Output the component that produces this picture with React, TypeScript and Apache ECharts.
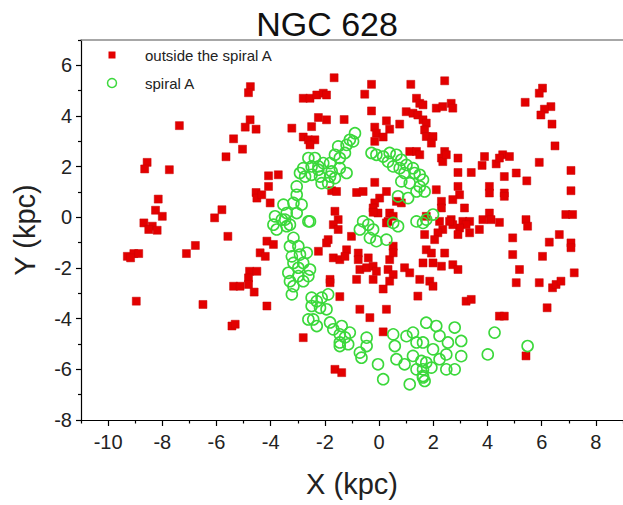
import React, { useEffect, useRef } from "react";
import * as echarts from "echarts";

// X / Y in kpc
const xMajorTicks = [-10, -8, -6, -4, -2, 0, 2, 4, 6, 8];
const xMinorTicks = [-11, -9, -7, -5, -3, -1, 1, 3, 5, 7, 9];
const yMajorTicks = [-8, -6, -4, -2, 0, 2, 4, 6];
const yMinorTicks = [-7, -5, -3, -1, 1, 3, 5, 7];

const outsideSpiralA: [number, number][] = [
  [-7.37, 3.62], [-4.75, 5.16], [-4.82, 4.92], [-4.76, 3.85], [-4.94, 3.56], [-4.54, 3.48],
  [-5.37, 3.1], [-5.04, 2.69], [-5.65, 2.39], [-8.56, 2.17], [-8.65, 1.91], [-7.74, 1.88],
  [-4.54, 0.98], [-4.51, 0.76], [-8.15, 0.72], [-8.25, 0.28], [-8.0, 0.04], [-5.8, 0.3],
  [-6.07, -0.02], [-8.68, -0.22], [-8.37, -0.35], [-8.5, -0.48], [-8.19, -0.51], [-5.58, -0.75],
  [-7.11, -1.43], [-6.78, -1.11], [-9.29, -1.54], [-9.05, -1.43], [-8.87, -1.43], [-9.17, -1.6],
  [-8.96, -3.31], [-6.5, -3.44], [-5.43, -4.29], [-5.31, -4.22], [-4.78, -2.13], [-4.82, -2.39],
  [-4.82, -2.65], [-4.51, -2.13], [-4.39, -1.4], [-5.37, -2.72], [-5.13, -2.72], [-4.61, -2.95],
];

const outsideSpiralB: [number, number][] = [
  [-1.66, 5.51], [-0.28, 5.25], [1.17, 5.25], [-0.53, 4.86], [-2.8, 4.7], [-2.55, 4.7],
  [-2.3, 4.83], [-2.06, 4.9], [-1.94, 4.83], [1.38, 4.7], [1.5, 4.5], [1.62, 4.44],
  [1.0, 4.17], [1.25, 4.11], [1.43, 4.04], [1.62, 3.85], [1.74, 3.72], [1.68, 3.45],
  [1.74, 3.19], [-0.28, 4.2], [0.27, 3.81], [0.76, 3.68], [0.39, 3.48], [-0.16, 3.56],
  [-0.1, 3.32], [0.15, 3.17], [-0.16, 3.0], [-2.24, 3.94], [-1.94, 3.85], [-2.49, 3.58],
  [-1.29, 3.86], [-3.22, 3.52], [-2.8, 3.17], [-2.61, 3.06], [-2.37, 3.06], [-2.55, 2.86],
  [1.13, 2.6], [1.38, 2.6], [1.5, 2.47], [-4.08, 1.64], [-3.72, 1.68], [-4.33, 0.89],
  [-4.08, 1.22], [-4.02, 0.57], [-1.75, 1.05], [-1.57, 1.02], [-0.83, 0.98], [-0.59, 1.02],
  [-0.16, 1.38], [0.27, 1.02], [0.02, 0.76], [-0.16, 0.57], [-0.22, 0.37], [-0.04, 0.17],
  [0.64, 0.63], [0.82, 0.57], [0.39, 0.17], [0.52, 0.04], [0.33, -0.16], [-1.63, 0.24],
  [-1.51, -0.09], [-1.69, -0.29],
];

const outsideSpiralC: [number, number][] = [
  [2.42, 5.39], [6.03, 5.1], [5.91, 4.9], [5.39, 4.54], [6.34, 4.37], [6.1, 4.27],
  [5.97, 4.04], [6.38, 3.68], [6.49, 2.82], [1.99, 3.19], [1.93, 2.93], [2.11, 4.31],
  [2.35, 4.37], [2.66, 4.5], [2.72, 4.31], [2.42, 2.6], [2.3, 2.34], [2.35, 2.2],
  [2.48, 2.47], [2.91, 2.34], [2.91, 1.77], [3.4, 1.77], [2.91, 1.22], [2.97, 0.89],
  [4.07, 1.22], [4.07, 0.96], [4.62, 1.61], [4.62, 0.96], [4.62, 0.83], [3.89, 2.4],
  [3.8, 2.05], [4.32, 2.11], [4.56, 2.47], [4.81, 2.4], [4.44, 2.34], [5.06, 1.75],
  [5.45, 1.44], [5.91, 2.17], [7.08, 1.85], [7.08, 1.05], [6.89, 0.11], [7.14, 0.11],
  [2.11, 1.09], [2.3, 0.63], [2.3, 0.37], [2.72, 0.7], [3.15, 0.37], [2.66, -0.09],
  [3.09, -0.16], [3.34, -0.16], [3.83, -0.09], [4.07, 0.17], [4.13, -0.09], [4.44, -0.2],
  [5.42, -0.09], [2.23, -0.16],
];

const outsideSpiralD: [number, number][] = [
  [-4.14, -0.94], [-3.9, -1.07], [-4.2, -1.54], [-4.14, -3.5], [-2.8, -4.75], [-1.63, -6.0],
  [-1.38, -6.13], [-1.88, -0.88], [-1.94, -1.01], [-1.51, -0.48], [-2.24, -1.34], [-1.69, -1.6],
  [-1.45, -1.67], [-1.81, -2.45], [-1.81, -2.58], [-1.45, -3.13], [-1.02, -0.75], [-1.2, -1.28],
  [-1.26, -1.54], [-0.77, -1.41], [-0.77, -1.67], [-0.71, -2.06], [-0.46, -1.99], [-0.22, -1.93],
  [-0.1, -2.13], [-0.83, -2.45], [-0.22, -2.45], [-0.4, -1.6], [-0.71, -3.63], [-0.34, -3.96],
  [0.15, -2.83], [0.27, -3.63], [0.15, -4.52], [-0.22, 0.2], [0.27, -0.22], [0.52, -1.14],
  [0.39, -1.67], [0.52, -1.4], [0.33, -2.06], [0.52, -2.26], [0.39, -2.52], [0.94, -1.99],
  [1.13, -2.19], [1.5, -2.45], [1.43, -3.11], [1.62, -1.8], [1.74, -1.28], [1.68, -0.68],
  [1.74, 0.04],
];

const outsideSpiralE: [number, number][] = [
  [5.48, -0.35], [4.93, -0.81], [4.93, -1.47], [5.18, -2.06], [5.06, -2.58], [5.91, -2.58],
  [6.03, -1.54], [6.28, -0.98], [6.65, -0.68], [7.08, -1.01], [7.08, -1.2], [7.2, -2.19],
  [6.4, -2.78], [6.53, -2.65], [6.71, -2.52], [6.2, -3.57], [3.7, -0.48], [3.21, -0.29],
  [2.97, -0.42], [2.91, -0.68], [3.34, -0.61], [2.72, -0.29], [2.6, -0.16], [2.35, -0.48],
  [2.17, -0.61], [2.05, -0.88], [1.93, -1.41], [2.42, -1.41], [2.72, -1.87], [2.91, -2.06],
  [2.3, -1.93], [1.99, -1.8], [1.87, -2.52], [1.99, -2.72], [3.21, -3.31], [3.4, -3.24],
  [4.44, -3.9], [4.62, -3.9], [5.42, -5.47],
];

const spiralNorth: [number, number][] = [
  [-0.89, 3.32], [-1.08, 3.06], [-0.96, 3.0], [-1.51, 2.8], [-1.2, 2.86], [-1.26, 2.54],
  [-1.63, 2.47], [-1.45, 2.34], [-1.81, 2.14], [-2.06, 2.14], [-2.37, 2.34], [-2.61, 2.34],
  [-2.49, 2.01], [-2.24, 2.01], [-2.8, 1.94], [-2.92, 1.75], [-2.73, 1.61], [-2.49, 1.68],
  [-2.18, 1.61], [-1.81, 1.61], [-2.12, 1.35], [-2.24, 1.88], [-1.75, 1.81], [-1.45, 1.94],
  [-1.2, 1.75], [-1.63, 1.55], [-1.88, 1.35], [-3.04, 1.22], [-3.04, 0.89], [-3.16, 0.57],
  [-3.53, 0.5], [-3.41, 0.17], [-3.59, -0.09], [-3.29, -0.29], [-2.86, 0.5], [-2.61, -0.16],
  [-3.84, 0.04], [-3.9, -0.29],
];

const spiralEast: [number, number][] = [
  [-0.28, 2.54], [-0.1, 2.47], [0.15, 2.4], [0.39, 2.54], [0.64, 2.47], [0.82, 2.27],
  [1.01, 2.07], [1.25, 1.94], [0.33, 2.2], [0.52, 2.01], [0.76, 1.94], [0.94, 1.75],
  [1.31, 1.75], [1.5, 1.68], [1.62, 1.48], [1.5, 1.22], [0.82, 1.42], [1.13, 1.35],
  [1.38, 1.02], [1.68, 1.02], [0.7, 0.83], [1.07, 0.76], [-0.59, -0.16], [-0.4, -0.29],
  [0.52, -0.22], [0.7, -0.35], [1.38, -0.16], [1.62, -0.22], [-2.55, -0.16], [1.99, 0.11],
  [1.74, -0.09], [-0.22, -0.48], [-0.34, -0.81], [-0.1, -0.94], [0.27, -0.88], [-0.71, -0.48],
];

const spiralWest: [number, number][] = [
  [-3.47, -0.09], [-3.78, -0.48], [-3.41, -0.35], [-3.04, 0.17], [-3.16, -0.81], [-3.29, -1.14],
  [-2.98, -1.14], [-3.22, -1.54], [-2.92, -1.47], [-2.67, -1.4], [-3.16, -1.8], [-2.8, -1.8],
  [-2.98, -1.99], [-2.55, -2.06], [-3.35, -2.19], [-2.98, -2.32], [-3.29, -2.52], [-3.16, -2.72],
  [-2.8, -2.52], [-2.61, -2.32], [-3.22, -3.04], [-2.49, -3.17], [-2.3, -3.31], [-2.12, -3.17],
  [-1.88, -3.04], [-2.49, -3.5], [-2.18, -3.57], [-1.94, -3.63], [-2.43, -4.03], [-2.61, -4.03],
  [-2.3, -4.29], [-1.81, -4.15], [-1.69, -4.42], [-1.38, -4.29], [-1.45, -4.62], [-1.08, -4.55],
  [-1.26, -4.74], [-1.45, -4.94], [-1.14, -5.01], [-1.45, -5.08],
];

const spiralSouth: [number, number][] = [
  [-0.46, -4.75], [-0.46, -5.08], [-0.65, -5.54], [-0.04, -5.8], [0.15, -6.39], [-0.71, -5.34],
  [0.52, -4.62], [0.58, -5.08], [0.64, -5.6], [1.01, -4.69], [1.25, -4.55], [1.38, -4.94],
  [1.62, -4.94], [1.25, -5.47], [1.56, -5.67], [0.94, -5.8], [1.38, -6.0], [1.62, -6.26],
  [1.13, -6.59], [1.68, -6.46], [1.74, -4.16], [4.26, -4.55], [4.01, -5.41], [5.48, -5.08],
  [2.11, -4.29], [2.79, -4.35], [3.03, -4.88], [2.23, -4.68], [2.54, -4.94], [1.99, -5.21],
  [2.48, -5.41], [3.03, -5.48], [2.23, -5.6], [1.74, -5.73], [1.62, -6.0], [1.93, -5.93],
  [2.48, -6.0], [2.79, -6.0], [1.62, -6.32],
];

const outsideData = [
  ...outsideSpiralA, ...outsideSpiralB, ...outsideSpiralC, ...outsideSpiralD, ...outsideSpiralE,
];
const spiralData = [...spiralNorth, ...spiralEast, ...spiralWest, ...spiralSouth];

const FONT = "'Liberation Sans', Arial, sans-serif";
const RED = "#e30000";
const GREEN = "#3bd83b";

export default function App() {
  const ref = useRef<HTMLDivElement>(null);

  useEffect(() => {
    document.body.style.margin = "0";
    if (!ref.current) return;
    const chart = echarts.init(ref.current, null, { renderer: "svg" });

    const baseX = { type: "value", min: -11, max: 9, gridIndex: 0, splitLine: { show: false } };
    const baseY = { type: "value", min: -8, max: 7, gridIndex: 0, splitLine: { show: false } };

    chart.setOption({
      animation: false,
      backgroundColor: "#ffffff",
      textStyle: { fontFamily: FONT },
      title: {
        text: "NGC 628",
        left: 322,
        textAlign: "center",
        top: 2,
        textStyle: { fontSize: 34, fontWeight: "normal", color: "#111", fontFamily: FONT },
      },
      grid: { left: 81, right: 0, top: 40, bottom: 85, containLabel: false },
      xAxis: [
        {
          ...baseX,
          position: "bottom",
          name: "X (kpc)",
          nameLocation: "middle",
          nameGap: 49,
          nameTextStyle: { fontSize: 29, color: "#222", fontFamily: FONT },
          axisLine: { show: true, onZero: false, lineStyle: { color: "#000", width: 1.2 } },
          axisTick: { show: true, inside: false, length: 6, customValues: xMajorTicks, lineStyle: { color: "#000", width: 1.2 } },
          axisLabel: { show: true, customValues: xMajorTicks, margin: 12, fontSize: 20, color: "#222", fontFamily: FONT },
        },
        {
          ...baseX,
          position: "bottom",
          axisLine: { show: false, onZero: false },
          axisTick: { show: true, inside: false, length: 3.5, customValues: xMinorTicks, lineStyle: { color: "#000", width: 1.2 } },
          axisLabel: { show: false },
        },
        {
          ...baseX,
          position: "top",
          axisLine: { show: true, onZero: false, lineStyle: { color: "#8a8a8a", width: 1.5 } },
          axisTick: { show: false },
          axisLabel: { show: false },
        },
      ],
      yAxis: [
        {
          ...baseY,
          position: "left",
          name: "Y (kpc)",
          nameLocation: "middle",
          nameGap: 42,
          nameTextStyle: { fontSize: 29, color: "#222", fontFamily: FONT },
          axisLine: { show: true, onZero: false, lineStyle: { color: "#000", width: 1.2 } },
          axisTick: { show: true, inside: false, length: 5, customValues: yMajorTicks, lineStyle: { color: "#000", width: 1.2 } },
          axisLabel: { show: true, customValues: yMajorTicks, margin: 9, fontSize: 20, color: "#222", fontFamily: FONT },
        },
        {
          ...baseY,
          position: "left",
          axisLine: { show: false, onZero: false },
          axisTick: { show: true, inside: false, length: 3, customValues: yMinorTicks, lineStyle: { color: "#000", width: 1.2 } },
          axisLabel: { show: false },
        },
      ],
      series: [
        {
          name: "outside the spiral A",
          type: "scatter",
          xAxisIndex: 0,
          yAxisIndex: 0,
          symbol: "rect",
          symbolSize: 8,
          itemStyle: { color: RED, borderColor: "#c80000", borderWidth: 0.5, opacity: 1 },
          data: outsideData,
        },
        {
          name: "spiral A",
          type: "scatter",
          xAxisIndex: 0,
          yAxisIndex: 0,
          symbol: "circle",
          symbolSize: 11,
          itemStyle: { color: "rgba(255,255,255,0)", borderColor: GREEN, borderWidth: 1.6, opacity: 1 },
          data: spiralData,
        },
      ],
      graphic: [
        { type: "rect", shape: { x: 108.5, y: 51.5, width: 7, height: 7 }, style: { fill: RED } },
        { type: "circle", shape: { cx: 112, cy: 83, r: 4.5 }, style: { fill: "none", stroke: GREEN, lineWidth: 1.5 } },
        { type: "text", x: 145, y: 55, style: { text: "outside the spiral A", fontSize: 15, fontFamily: FONT, fill: "#222", verticalAlign: "middle" } },
        { type: "text", x: 145, y: 83, style: { text: "spiral A", fontSize: 15, fontFamily: FONT, fill: "#222", verticalAlign: "middle" } },
      ],
    });

    return () => chart.dispose();
  }, []);

  return <div ref={ref} style={{ position: "fixed", left: 0, top: 0, width: 623, height: 505, background: "#fff" }} />;
}
